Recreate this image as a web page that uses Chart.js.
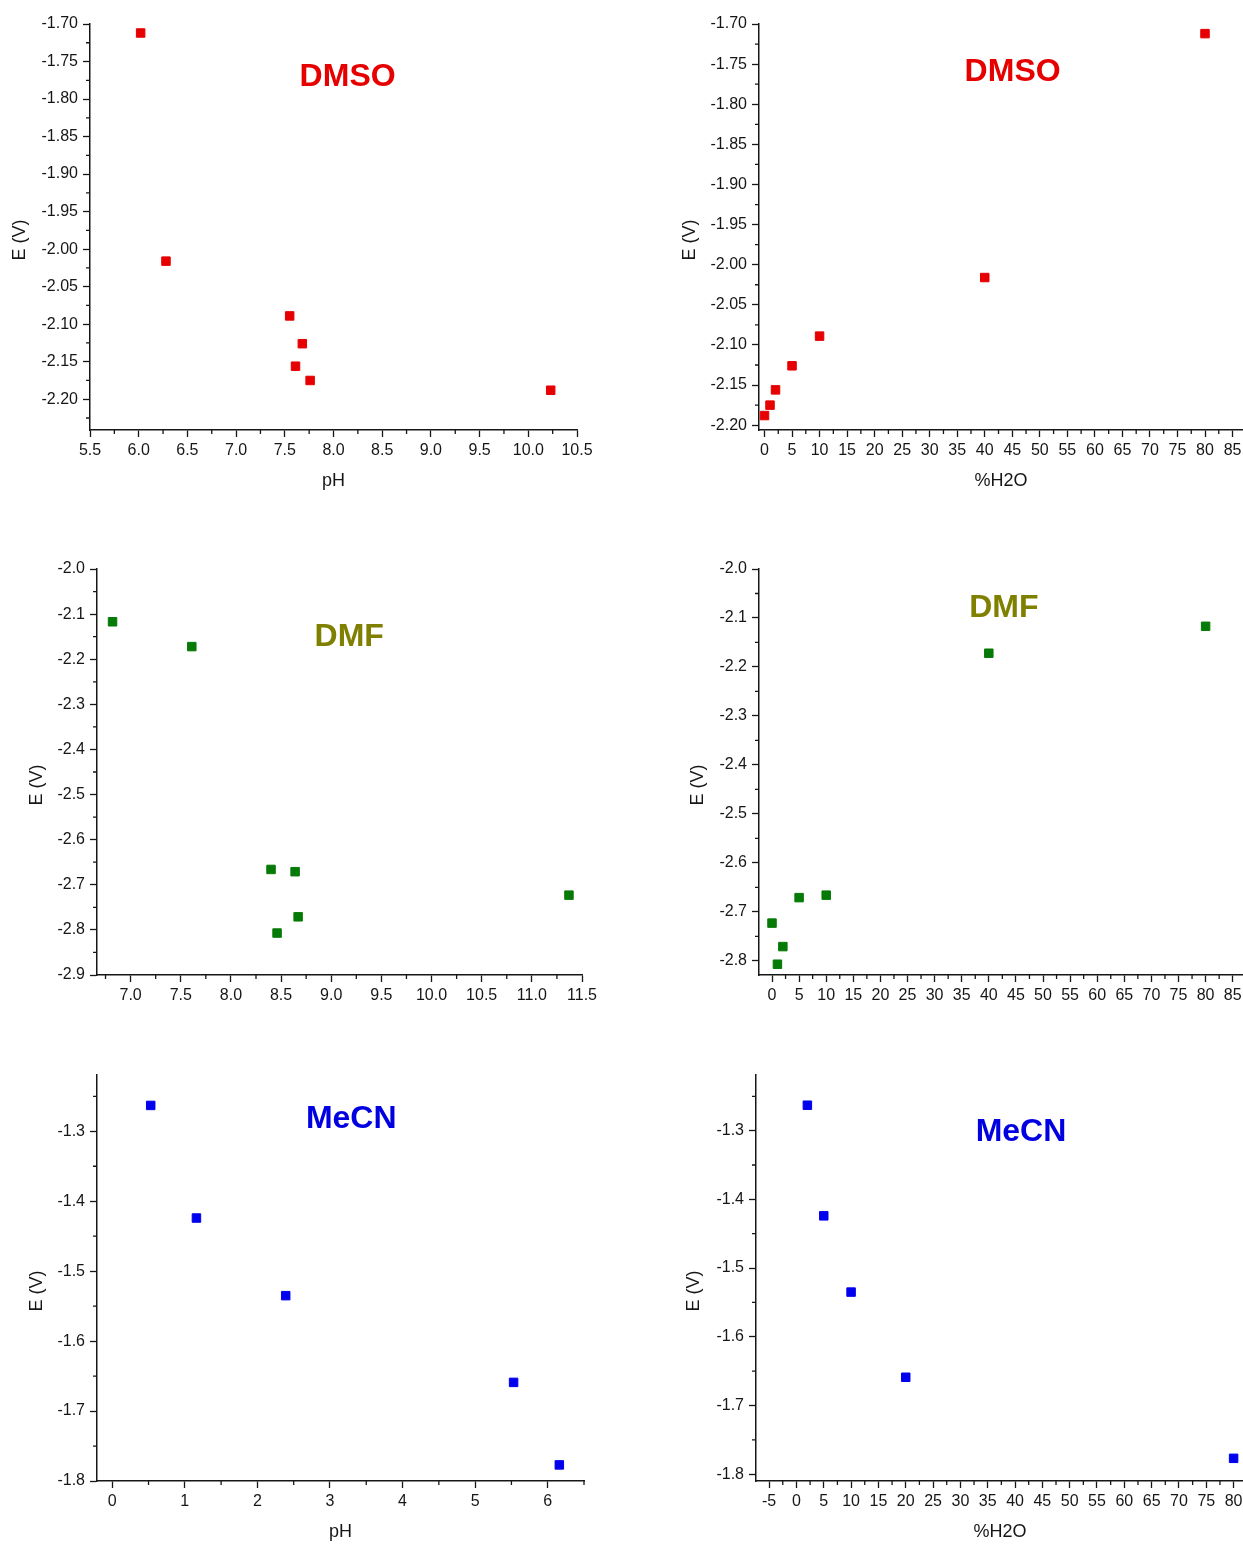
<!DOCTYPE html>
<html>
<head>
<meta charset="utf-8">
<script src="https://cdn.jsdelivr.net/npm/chart.js@4.4.1/dist/chart.umd.min.js"></script>
<style>
  html, body { margin: 0; padding: 0; background: #fff; }
  body { width: 1243px; height: 1544px; position: relative; overflow: hidden; }
  canvas { position: absolute; }
</style>
</head>
<body>
<script>
// Reduction potential E (V) against apparent pH and water content, three solvents.
const dmsoWater = [80, 40, 10, 5, 2, 1, 0];
const dmsoPH    = [6.02, 6.28, 7.55, 7.68, 7.61, 7.76, 10.23];
const dmsoE     = [-1.712, -2.016, -2.089, -2.126, -2.156, -2.175, -2.188];

const dmfWater = [80, 40, 10, 5, 2, 1, 0];
const dmfPH    = [6.82, 7.61, 8.40, 8.64, 8.67, 8.46, 11.37];
const dmfE     = [-2.117, -2.172, -2.666, -2.671, -2.771, -2.807, -2.723];

const mecnWater = [2, 5, 10, 20, 80];
const mecnPH    = [0.53, 1.16, 2.39, 5.53, 6.16];
const mecnE     = [-1.263, -1.424, -1.535, -1.659, -1.777];

// Major tick values
const dmsoPHTicks   = [5.5, 6.0, 6.5, 7.0, 7.5, 8.0, 8.5, 9.0, 9.5, 10.0, 10.5];
const dmsoETicks    = [-2.20, -2.15, -2.10, -2.05, -2.00, -1.95, -1.90, -1.85, -1.80, -1.75, -1.70];
const waterTicks    = [0, 5, 10, 15, 20, 25, 30, 35, 40, 45, 50, 55, 60, 65, 70, 75, 80, 85];
const dmfPHTicks    = [7.0, 7.5, 8.0, 8.5, 9.0, 9.5, 10.0, 10.5, 11.0, 11.5];
const dmfETicksPH   = [-2.9, -2.8, -2.7, -2.6, -2.5, -2.4, -2.3, -2.2, -2.1, -2.0];
const dmfETicksW    = [-2.8, -2.7, -2.6, -2.5, -2.4, -2.3, -2.2, -2.1, -2.0];
const mecnPHTicks   = [0, 1, 2, 3, 4, 5, 6];
const mecnWaterTicks = [-5, 0, 5, 10, 15, 20, 25, 30, 35, 40, 45, 50, 55, 60, 65, 70, 75, 80];
const mecnETicks    = [-1.8, -1.7, -1.6, -1.5, -1.4, -1.3];

const FONT = "'Liberation Sans', Arial, Helvetica, sans-serif";
const INK = '#161616';
const Y_TITLE = 'E (V)';

// Plot area of each panel in page pixels: [left, top, right, bottom]
const panels = [
  { area: [90, 24, 577, 430],
    x: { min: 5.5, max: 10.5, ticks: dmsoPHTicks, dec: 1, minor: 0.25, title: 'pH' },
    y: { min: -2.241, max: -1.70, ticks: dmsoETicks, dec: 2, minor: 0.025 },
    xs: dmsoPH, ys: dmsoE, color: '#e60000',
    name: 'DMSO', nameColor: '#e60000', namePos: [0.529, 0.125], yTitleGap: 70 },
  { area: [759, 24, 1243, 430],
    x: { min: -1.0, max: 86.9, ticks: waterTicks, dec: 0, minor: 2.5, title: '%H2O' },
    y: { min: -2.206, max: -1.70, ticks: dmsoETicks, dec: 2, minor: 0.025 },
    xs: dmsoWater, ys: dmsoE, color: '#e60000',
    name: 'DMSO', nameColor: '#e60000', namePos: [0.524, 0.112], yTitleGap: 69 },
  { area: [96.5, 569, 581, 975],
    x: { min: 6.665, max: 11.5, ticks: dmfPHTicks, dec: 1, minor: 0.25, title: '' },
    y: { min: -2.9, max: -2.0, ticks: dmfETicksPH, dec: 1, minor: 0.05 },
    xs: dmfPH, ys: dmfE, color: '#067a06',
    name: 'DMF', nameColor: '#808000', namePos: [0.520, 0.161], yTitleGap: 60 },
  { area: [759, 569, 1243, 975],
    x: { min: -2.4, max: 86.9, ticks: waterTicks, dec: 0, minor: 2.5, title: '' },
    y: { min: -2.829, max: -2.0, ticks: dmfETicksW, dec: 1, minor: 0.05 },
    xs: dmfWater, ys: dmfE, color: '#067a06',
    name: 'DMF', nameColor: '#808000', namePos: [0.506, 0.089], yTitleGap: 60.5 },
  { area: [96.5, 1075, 583, 1481],
    x: { min: -0.21, max: 6.5, ticks: mecnPHTicks, dec: 0, minor: 0.5, title: 'pH' },
    y: { min: -1.8, max: -1.2195, ticks: mecnETicks, dec: 1, minor: 0.05 },
    xs: mecnPH, ys: mecnE, color: '#0000ee',
    name: 'MeCN', nameColor: '#0000e0', namePos: [0.522, 0.103], yTitleGap: 59.5 },
  { area: [755.5, 1075, 1243, 1481],
    x: { min: -7.4, max: 81.9, ticks: mecnWaterTicks, dec: 0, minor: 2.5, title: '%H2O' },
    y: { min: -1.81, max: -1.219, ticks: mecnETicks, dec: 1, minor: 0.05 },
    xs: mecnWater, ys: mecnE, color: '#0000ee',
    name: 'MeCN', nameColor: '#0000e0', namePos: [0.543, 0.134], yTitleGap: 61.5 }
];

// Short ticks halfway between the labelled ones
function minorValues(axis) {
  const out = [];
  const eps = 1e-9;
  const first = axis.ticks[0] - axis.minor * Math.ceil((axis.ticks[0] - axis.min) / axis.minor);
  for (let v = first; v <= axis.max + eps; v += axis.minor) {
    const r = Math.round(v * 1e6) / 1e6;
    if (r < axis.min - eps) continue;
    const isMajor = axis.ticks.some(t => Math.abs(t - r) < 1e-6);
    if (!isMajor) out.push(r);
  }
  return out;
}

const minorTicks = {
  id: 'minorTicks',
  afterDraw(chart, args, opts) {
    const { ctx, chartArea, scales } = chart;
    ctx.save();
    ctx.strokeStyle = INK;
    ctx.lineWidth = 1.3;
    ctx.beginPath();
    opts.xMinor.forEach(v => {
      const px = scales.x.getPixelForValue(v);
      ctx.moveTo(px, chartArea.bottom);
      ctx.lineTo(px, chartArea.bottom + 4);
    });
    opts.yMinor.forEach(v => {
      const py = scales.y.getPixelForValue(v);
      ctx.moveTo(chartArea.left - 4, py);
      ctx.lineTo(chartArea.left, py);
    });
    ctx.stroke();
    ctx.restore();
  }
};

const panelText = {
  id: 'panelText',
  afterDraw(chart, args, opts) {
    const { ctx, chartArea } = chart;
    const w = chartArea.right - chartArea.left;
    const h = chartArea.bottom - chartArea.top;
    ctx.save();
    // solvent name
    ctx.font = `bold 32px ${FONT}`;
    ctx.fillStyle = opts.nameColor;
    ctx.textAlign = 'center';
    ctx.textBaseline = 'alphabetic';
    ctx.fillText(opts.name, chartArea.left + opts.namePos[0] * w,
                 chartArea.top + opts.namePos[1] * h + 11.5);
    // vertical axis title
    ctx.translate(chartArea.left - opts.yTitleGap, chartArea.top + h / 2 + 13);
    ctx.rotate(-Math.PI / 2);
    ctx.font = `18px ${FONT}`;
    ctx.fillStyle = INK;
    ctx.textBaseline = 'middle';
    ctx.fillText(Y_TITLE, 0, 0);
    ctx.restore();
  }
};

panels.forEach(p => {
  const [L, T, R, B] = p.area;
  const yW = 80;
  const padTop = 20;
  const padR = R >= 1243 ? 0 : 40;
  const xH = p.x.title ? 62 : 40;
  const cLeft = L - yW;
  const cTop = T - padTop;
  const cW = Math.round(R + padR - cLeft);
  const cH = Math.round(B - T + padTop + xH);

  const canvas = document.createElement('canvas');
  canvas.width = cW;
  canvas.height = cH;
  canvas.style.left = cLeft + 'px';
  canvas.style.top = cTop + 'px';
  canvas.style.width = cW + 'px';
  canvas.style.height = cH + 'px';
  document.body.appendChild(canvas);

  const tickFont = { family: FONT, size: 16 };
  const gridOpts = {
    display: true, drawOnChartArea: false, drawTicks: true,
    tickLength: 7, tickColor: INK, tickWidth: 1.3
  };
  const borderOpts = { display: true, color: INK, width: 1.5 };

  new Chart(canvas, {
    type: 'scatter',
    data: {
      datasets: [{
        data: p.xs.map((v, i) => ({ x: v, y: p.ys[i] })),
        pointStyle: 'rect',
        pointRadius: 6,
        pointHoverRadius: 6,
        backgroundColor: p.color,
        borderColor: p.color,
        borderWidth: 1,
        clip: false
      }]
    },
    options: {
      responsive: false,
      animation: false,
      devicePixelRatio: 1,
      events: [],
      layout: { autoPadding: false, padding: { top: padTop, right: padR, left: 0, bottom: 0 } },
      plugins: {
        legend: { display: false },
        tooltip: { enabled: false },
        minorTicks: { xMinor: minorValues(p.x), yMinor: minorValues(p.y) },
        panelText: { name: p.name, nameColor: p.nameColor, namePos: p.namePos, yTitleGap: p.yTitleGap }
      },
      scales: {
        x: {
          type: 'linear', position: 'bottom',
          min: p.x.min, max: p.x.max,
          afterBuildTicks: s => { s.ticks = p.x.ticks.map(v => ({ value: v })); },
          afterFit: s => { s.height = xH; s.paddingLeft = 0; s.paddingRight = 0; },
          ticks: {
            callback: v => Number(v).toFixed(p.x.dec),
            font: tickFont, color: INK, padding: 4,
            maxRotation: 0, minRotation: 0, autoSkip: false
          },
          grid: gridOpts,
          border: borderOpts,
          title: {
            display: !!p.x.title, text: p.x.title,
            font: { family: FONT, size: 18 }, color: INK, padding: 0
          }
        },
        y: {
          type: 'linear', position: 'left',
          min: p.y.min, max: p.y.max,
          afterBuildTicks: s => { s.ticks = p.y.ticks.map(v => ({ value: v })); },
          afterFit: s => { s.width = yW; s.paddingTop = 0; s.paddingBottom = 0; },
          ticks: {
            callback: v => Number(v).toFixed(p.y.dec),
            font: tickFont, color: INK, padding: 5, autoSkip: false
          },
          grid: gridOpts,
          border: borderOpts,
          title: { display: false }
        }
      }
    },
    plugins: [minorTicks, panelText]
  });
});
</script>
</body>
</html>
